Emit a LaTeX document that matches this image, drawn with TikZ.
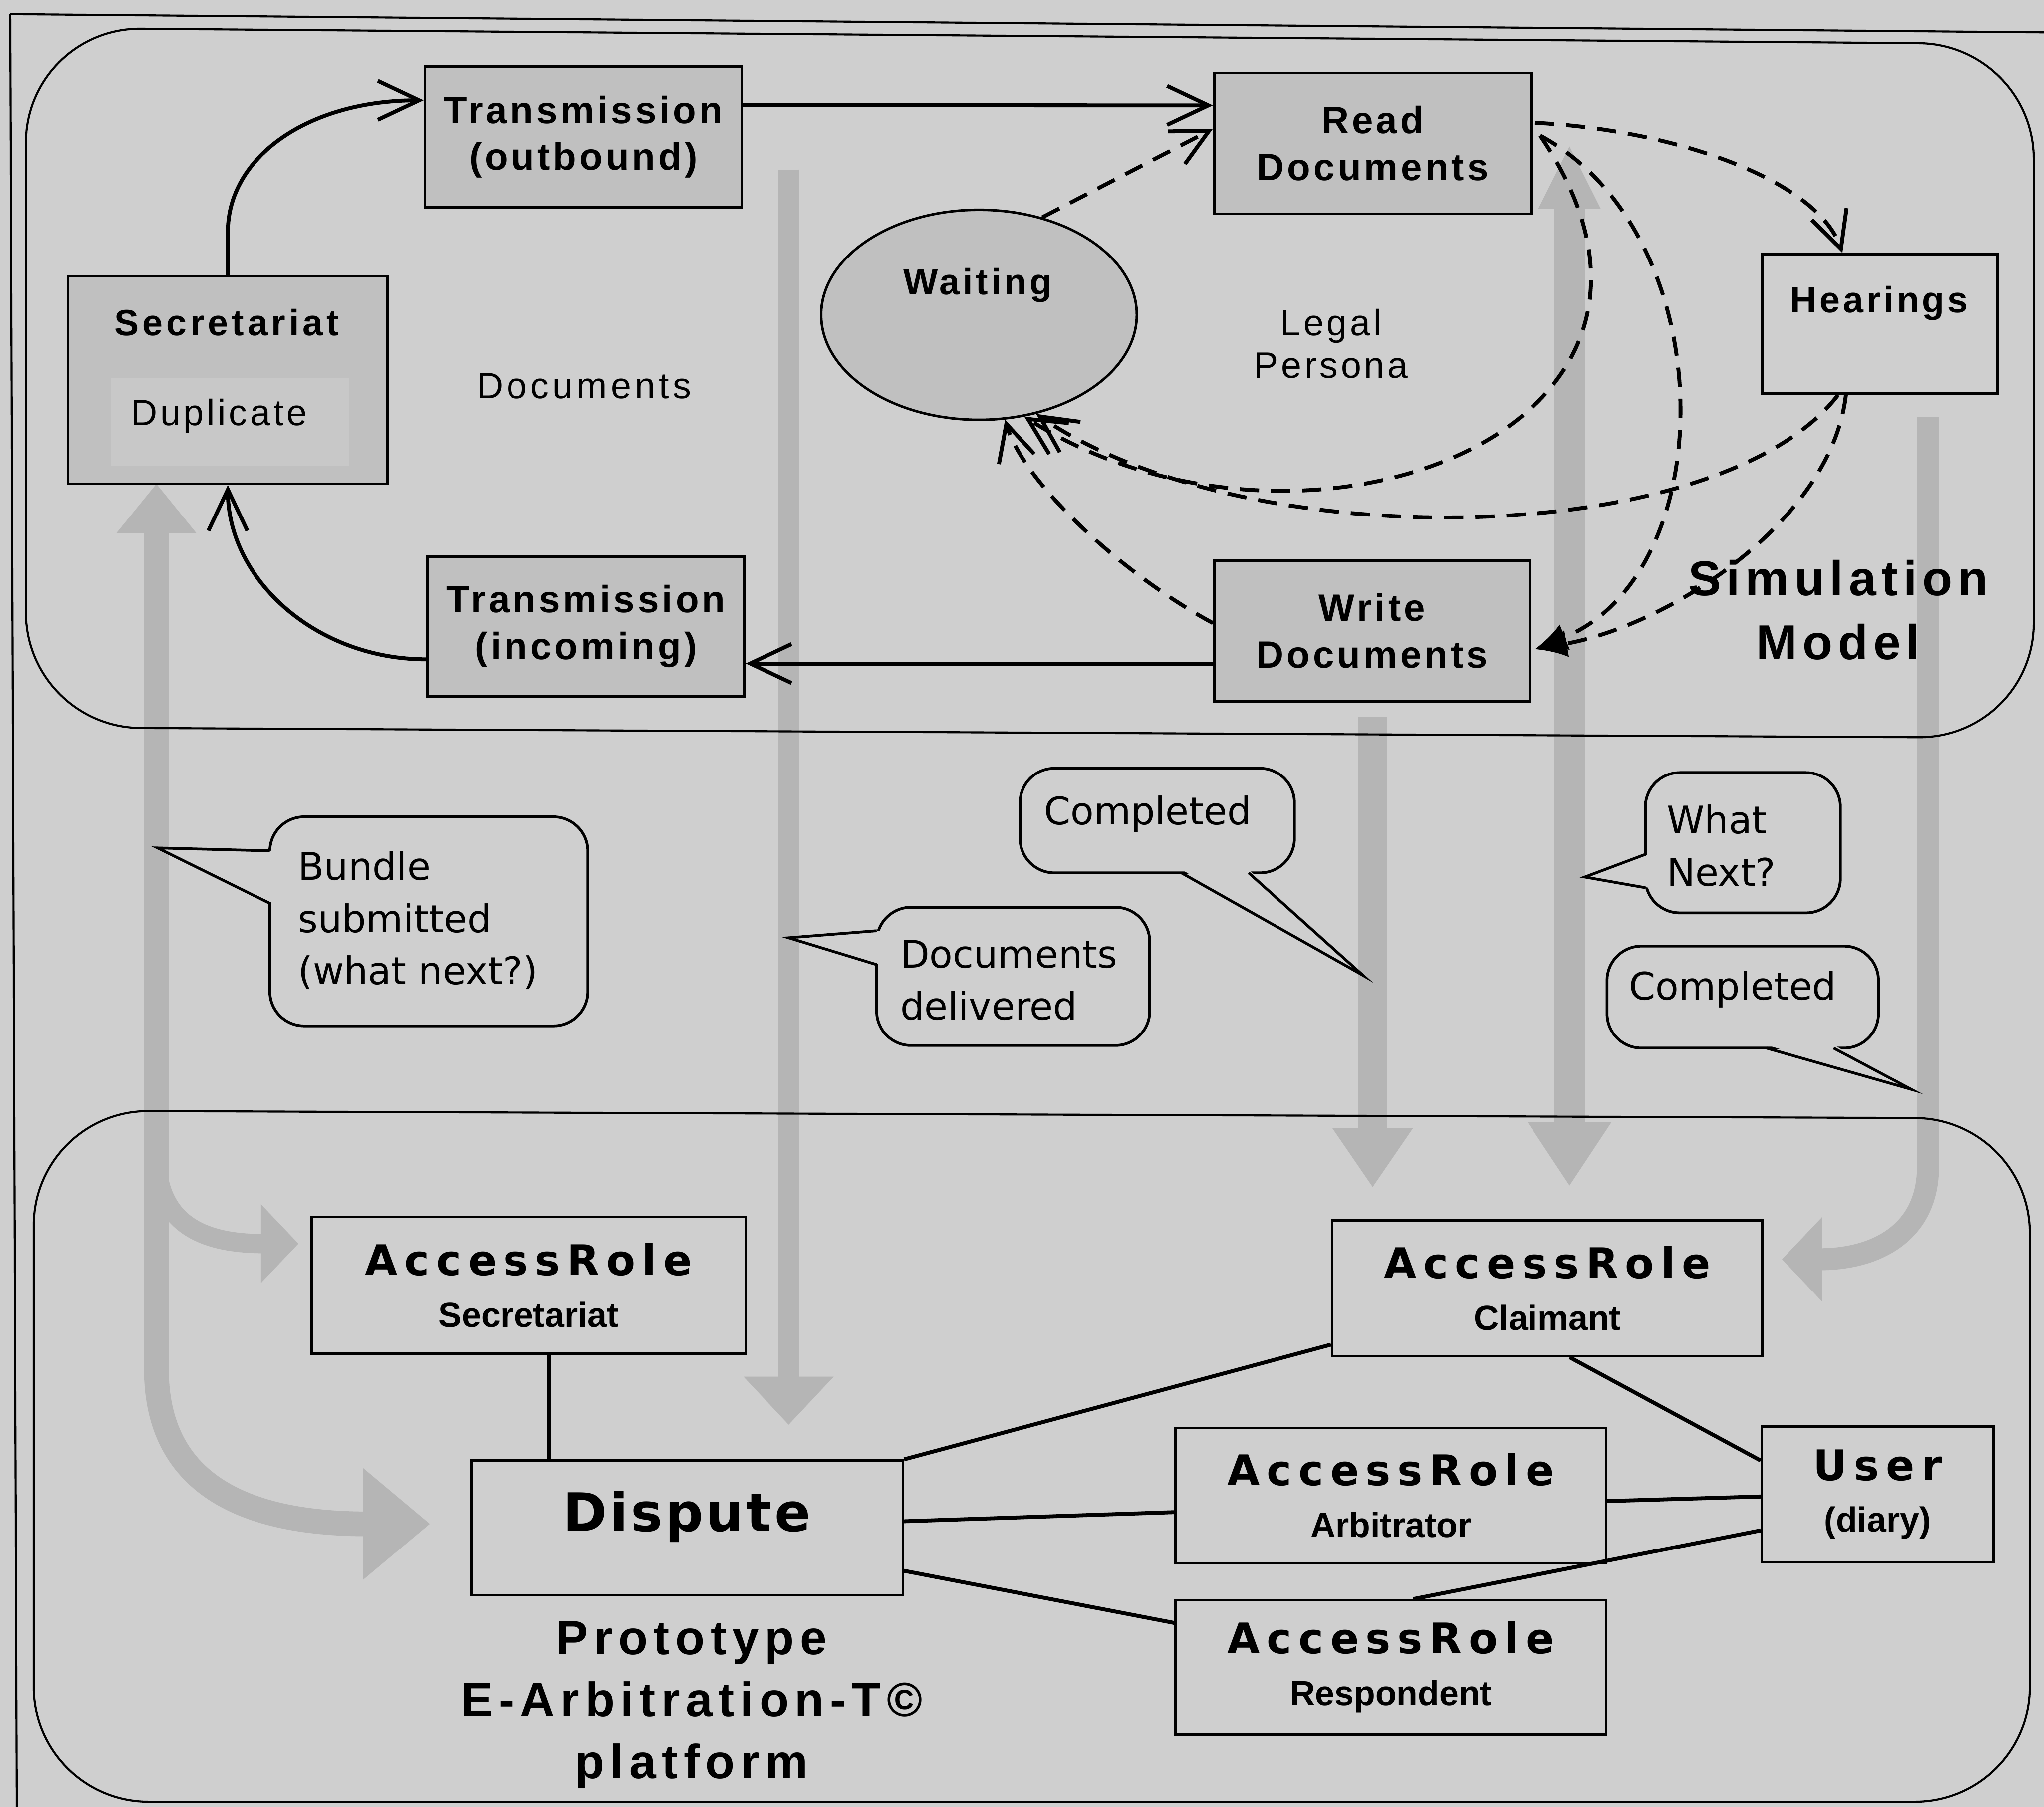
\documentclass[tikz,border=0pt]{standalone}
\usepackage{fontspec}
\setmainfont{Liberation Sans}
\newfontfamily\heavyfont{DejaVu Sans}
\newfontfamily\handfont{DejaVu Sans}
\usetikzlibrary{arrows.meta,shapes.geometric,calc}

\definecolor{paper}{RGB}{207,207,207}
\definecolor{boxfill}{RGB}{192,192,192}
\definecolor{innerfill}{RGB}{200,200,200}
\definecolor{flowgray}{RGB}{181,181,181}

\newcommand\spaced[1]{\addfontfeature{LetterSpace=#1}}
\newcommand\rolehead[1]{{\heavyfont\bfseries\fontsize{9.2}{11.3}\selectfont\spaced{16}#1}}

\begin{document}
\begin{tikzpicture}[x=0.01cm,y=-0.01cm,
  frame/.style={line width=0.45pt},
  simbox/.style={draw, line width=0.55pt, fill=boxfill, inner sep=0pt, align=center,
    font=\fontsize{8.3}{10.2}\selectfont\bfseries\spaced{8}},
  plainbox/.style={draw, line width=0.55pt, inner sep=0pt},
  rolebox/.style={draw, line width=0.55pt, inner sep=0pt, align=center,
    font=\fontsize{7.6}{11.3}\selectfont\bfseries},
  boldtext/.style={inner sep=0pt, font=\fontsize{8}{9.6}\selectfont\bfseries\spaced{8}},
  plaintext/.style={inner sep=0pt, align=center, font=\fontsize{8}{9.2}\selectfont\spaced{8}},
  bigtitle/.style={inner sep=0pt, align=center, font=\fontsize{10.7}{13.9}\selectfont\bfseries\spaced{11}},
  saytext/.style={inner sep=0pt, align=left, font=\handfont\fontsize{8.3}{11.4}\selectfont},
  sayshape/.style={draw, line width=0.6pt, fill=paper, rounded corners=7.5pt},
  sayedge/.style={line width=0.6pt},
  solidarrow/.style={line width=0.85pt, -{Straight Barb[length=9pt,width=8.5pt]}},
  dasharrow/.style={line width=0.85pt, dash pattern=on 4.2pt off 2.6pt,
    -{Straight Barb[length=8pt,width=8pt]}},
  dashfilled/.style={line width=0.85pt, dash pattern=on 4.2pt off 2.6pt,
    -{Latex[length=7pt,width=6pt]}},
  link/.style={line width=0.85pt},
  flow/.style={draw=flowgray},
]
\useasboundingbox (0,0) rectangle (1568,1386);
\fill[paper] (0,0) rectangle (1568,1386);

% ---------- free ends of the grey flow arrows ----------
\coordinate (leftTop) at (120,371);
\coordinate (leftBend) at (120,1050);
\coordinate (leftEnd) at (330,1169);
\coordinate (branchStart) at (120,885);
\coordinate (branchEnd) at (229,954);
\coordinate (docsTop) at (605,130);
\coordinate (docsEnd) at (605,1093);
\coordinate (writeFlowTop) at (1053,550);
\coordinate (writeFlowEnd) at (1053,911);
\coordinate (readFlowTop) at (1204,111);
\coordinate (readFlowEnd) at (1204,910);
\coordinate (hearFlowTop) at (1479,320);
\coordinate (hearFlowBend) at (1479,895);
\coordinate (hearFlowEnd) at (1367,966);

% ---------- grey flow arrows ----------
\draw[flow, line width=5.4pt, {Triangle[length=10.8pt,width=16.7pt]}-{Triangle[length=14.7pt,width=23.5pt]}]
  (leftTop) -- (leftBend) .. controls (120,1140) and (190,1169) .. (leftEnd);
\draw[flow, line width=4.2pt, -{Triangle[length=8.2pt,width=16.7pt]}]
  (branchStart) .. controls (120,935) and (150,954) .. (branchEnd);
\draw[flow, line width=4.5pt, -{Triangle[length=10.5pt,width=19pt]}] (docsTop) -- (docsEnd);
\draw[flow, line width=6.2pt, -{Triangle[length=13pt,width=16.7pt]}] (writeFlowTop) -- (writeFlowEnd);
\draw[flow, line width=6.8pt, {Triangle[length=14pt,width=12.5pt]}-{Triangle[length=14pt,width=17.3pt]}]
  (readFlowTop) -- (readFlowEnd);
\draw[flow, line width=4.8pt, -{Triangle[length=8.8pt,width=18pt]}]
  (hearFlowTop) -- (hearFlowBend) .. controls (1479,945) and (1440,966) .. (hearFlowEnd);

% ---------- frames ----------
\draw[frame] (8,11) -- (1568,25);
\draw[frame] (8,11) -- (13,1386);
\draw[frame, rounded corners=0.88cm] (20,21.5) -- (1560,34) -- (1560,566) -- (20,558) -- cycle;
\draw[frame, rounded corners=0.88cm] (26,852) -- (1557,858) -- (1557,1382) -- (26,1382) -- cycle;

% ---------- simulation model ----------
\node[simbox, minimum width=2.43cm, minimum height=1.08cm] (tout) at (447.5,105) {Transmission\\(outbound)};
\node[simbox, minimum width=2.43cm, minimum height=1.08cm] (read) at (1053,110) {Read\\Documents};
\node[simbox, minimum width=2.45cm, minimum height=1.59cm] (sec) at (174.8,291.5) {};
\fill[innerfill] (85,290) rectangle (268,357);
\node[boldtext, font=\fontsize{8}{9.6}\selectfont\bfseries\spaced{9.5}] (sectitle) at (174,247.5) {Secretariat};
\node[plaintext] (secdup) at (168,319) {Duplicate};
\node[simbox, minimum width=2.43cm, minimum height=1.07cm] (tin) at (449.5,480.5) {Transmission\\(incoming)};
\node[simbox, minimum width=2.42cm, minimum height=1.08cm] (write) at (1052.5,484) {Write\\Documents};
\node[draw, line width=0.55pt, ellipse, fill=boxfill, minimum width=2.42cm, minimum height=1.61cm, inner sep=0pt] (wait) at (751,241.5) {};
\node[boldtext] (waittext) at (750,219) {Waiting};
\node[plainbox, minimum width=1.8cm, minimum height=1.07cm] (hear) at (1442,248.5) {};
\node[boldtext] (heartext) at (1441.6,232.5) {Hearings};
\node[plaintext] (legal) at (1021,263.7) {Legal\\Persona};
\node[plaintext, font=\fontsize{8}{9.2}\selectfont\spaced{10}] (docs) at (448,296) {Documents};
\node[bigtitle] (simmodel) at (1410,468) {Simulation\\Model};

% solid transfers
\draw[solidarrow] (sec.north) -- ++(0,-33) .. controls +(0,-58) and +(-88,0) .. ($(tout.west)+(0,-28)$);
\draw[solidarrow] ($(tout.east)+(0,-24.3)$) -- ($(read.west)+(0,-29.1)$);
\draw[solidarrow] ($(write.west)+(0,25)$) -- ($(tin.east)+(0,28.5)$);
\draw[solidarrow] ($(tin.west)+(0,25.3)$) .. controls +(-84,0) and +(0,73) .. (sec.south);

% dashed state changes
\draw[dasharrow] (wait.57) -- ($(read.west)+(0,-11.2)$);
\draw[dasharrow] ($(read.east)+(2,-15.8)$) .. controls (1290,100) and (1395,140) .. ($(hear.north)+(-28.7,0)$);
\draw[dasharrow] ($(read.east)+(6,-6)$) .. controls (1335,330) and (1000,455) .. (wait.-66);
\draw[dashfilled] ($(read.east)+(6,-6)$) .. controls (1322,180) and (1322,440) .. ($(write.east)+(3,14)$);
\draw[dasharrow] ($(hear.south)+(-32,0)$) .. controls (1320,420) and (960,430) .. (wait.-60);
\draw[dashfilled] ($(hear.south)+(-26,0)$) .. controls (1405,400) and (1280,480) .. ($(write.east)+(3,14)$);
\draw[dasharrow] ($(write.west)+(0,-6)$) .. controls (860,440) and (785,370) .. (wait.-76);

% ---------- speech bubbles ----------
\draw[sayshape] (207,626.6) rectangle (451,787);
\fill[paper] (209.5,652.7) -- (121,650.5) -- (209.5,693) -- cycle;
\draw[sayedge] (207,652.7) -- (121,650.5) -- (207,693);
\node[saytext, anchor=west] (bundletext) at (228,706) {Bundle\\submitted\\(what next?)};

\draw[sayshape] (672.5,696) rectangle (882,802);
\fill[paper] (675,714) -- (605,719.4) -- (675,740) -- cycle;
\draw[sayedge] (672.5,714) -- (605,719.4) -- (672.5,740);
\node[saytext, anchor=west] (delivtext) at (690,752) {Documents\\delivered};

\draw[sayshape] (782.5,589.4) rectangle (993,669.6);
\fill[paper] (906.3,667) -- (1045.6,748.2) -- (957.9,667) -- cycle;
\draw[sayedge] (906.3,669.6) -- (1045.6,748.2) -- (957.9,669.6);
\node[saytext] (doneone) at (880.5,624.4) {Completed};

\draw[sayshape] (1262.2,592.7) rectangle (1411.8,700.3);
\fill[paper] (1264.7,655.4) -- (1215.8,672.8) -- (1264.7,681) -- cycle;
\draw[sayedge] (1262.2,655.4) -- (1215.8,672.8) -- (1262.2,681);
\node[saytext, anchor=west] (nexttext) at (1278,648.6) {What\\Next?};

\draw[sayshape] (1232.8,725.8) rectangle (1441,804);
\fill[paper] (1355,801.5) -- (1466,835.6) -- (1406.6,801.5) -- cycle;
\draw[sayedge] (1355,804) -- (1466,835.6) -- (1406.6,804);
\node[saytext] (donetwo) at (1329.3,759) {Completed};

% ---------- prototype platform ----------
\node[rolebox, minimum width=3.33cm, minimum height=1.05cm] (arsec) at (405.5,986) {\rolehead{AccessRole}\\Secretariat};
\node[rolebox, minimum width=3.31cm, minimum height=1.03cm] (dispute) at (527,1172) {};
\node[inner sep=0pt, font=\heavyfont\bfseries\fontsize{11.6}{13}\selectfont\spaced{5}] (disputetext) at (527,1163.6) {Dispute};
\node[rolebox, minimum width=3.30cm, minimum height=1.04cm] (claim) at (1187,988.2) {\rolehead{AccessRole}\\Claimant};
\node[rolebox, minimum width=3.30cm, minimum height=1.035cm] (arb) at (1067,1147.3) {\rolehead{AccessRole}\\Arbitrator};
\node[rolebox, minimum width=3.30cm, minimum height=1.027cm] (resp) at (1067,1279) {\rolehead{AccessRole}\\Respondent};
\node[rolebox, minimum width=1.775cm, minimum height=1.04cm] (user) at (1440.4,1146.3) {\rolehead{User}\\(diary)};
\node[inner sep=0pt, align=center, font=\fontsize{10.5}{13.5}\selectfont\bfseries\spaced{12}] (proto) at (530.5,1308) {Prototype\\E-Arbitration-T©\\platform};

\coordinate (arsecfoot) at ($(arsec.south)+(15.8,0)$);
\draw[link] (arsecfoot) -- (arsecfoot |- dispute.north);
\draw[link] (dispute.north east) -- ($(claim.south west)+(0,-9.7)$);
\draw[link] ($(dispute.east)+(0,-5)$) -- ($(arb.west)+(0,12.7)$);
\draw[link] ($(dispute.east)+(0,33)$) -- ($(resp.west)+(0,-34)$);
\draw[link] ($(claim.south)+(17.2,0)$) -- ($(user.west)+(0,-25.9)$);
\draw[link] ($(arb.east)+(0,4.2)$) -- ($(user.west)+(0,1.7)$);
\draw[link] ($(resp.north)+(17.2,0)$) -- ($(user.west)+(0,27.7)$);
\end{tikzpicture}
\end{document}
